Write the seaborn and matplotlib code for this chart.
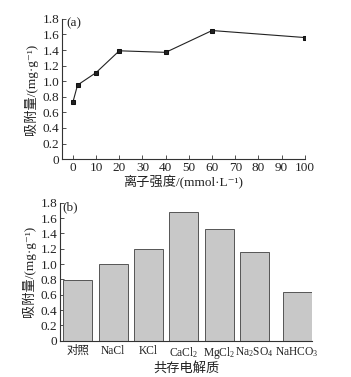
import seaborn as sns
import pandas as pd
import matplotlib.pyplot as plt

# panel (a): ionic strength
ionic_strength = [0, 2, 10, 20, 40, 60, 100]
adsorption_a = [0.73, 0.95, 1.11, 1.39, 1.37, 1.65, 1.56]

# panel (b): coexisting electrolytes
electrolytes = ["对照", "NaCl", "KCl", "CaCl$_2$", "MgCl$_2$", "Na$_2$SO$_4$", "NaHCO$_3$"]
adsorption_b = [0.79, 1.00, 1.19, 1.68, 1.46, 1.16, 0.64]
bar_pos = [0, 1, 2, 3, 4, 5, 6.2]  # last bar sits a bit further right in the original

sns.set_style("ticks")
plt.rcParams["font.family"] = ["Liberation Serif", "DejaVu Serif", "Noto Sans CJK SC"]
plt.rcParams["mathtext.fontset"] = "custom"
plt.rcParams["mathtext.rm"] = "Liberation Serif"
plt.rcParams["mathtext.it"] = "Liberation Serif:italic"

DARK = "#333333"
FS = 9.5

fig = plt.figure(figsize=(3.51, 3.77), dpi=100)
ax1 = fig.add_axes([0.1766, 0.578, 0.692, 0.372])
ax2 = fig.add_axes([0.171, 0.0963, 0.718, 0.366])

# (a) line with square markers
df_a = pd.DataFrame({"x": ionic_strength, "y": adsorption_a})
sns.lineplot(data=df_a, x="x", y="y", ax=ax1, color="#222222", linewidth=0.8,
             marker="s", markersize=3.5, markeredgecolor="#111111")
ax1.set_xlim(-4.7, 100)
ax1.set_ylim(0, 1.8)
ax1.set_xticks(range(0, 101, 10))
yt = [0, 0.2, 0.4, 0.6, 0.8, 1.0, 1.2, 1.4, 1.6, 1.8]
ytl = ["0", "0.2", "0.4", "0.6", "0.8", "1.0", "1.2", "1.4", "1.6", "1.8"]
ax1.set_yticks(yt)
ax1.set_yticklabels(ytl)
ax1.set_xlabel("离子强度/(mmol·L⁻¹)", fontsize=FS, labelpad=1)
ax1.set_ylabel("吸附量/(mg·g⁻¹)", fontsize=FS, labelpad=3)
ax1.text(0.02, 0.965, "(a)", transform=ax1.transAxes, fontsize=FS, va="center", ha="left")

# (b) bars
df_b = pd.DataFrame({"pos": bar_pos, "y": adsorption_b})
sns.barplot(data=df_b, x="pos", y="y", ax=ax2, native_scale=True, width=0.82,
            color="#c8c8c8", saturation=1, edgecolor="#555555", linewidth=0.7)
ax2.set_xlim(-0.5, 6.62)
ax2.set_ylim(0, 1.8)
ax2.set_xticks(bar_pos)
ax2.set_xticklabels(electrolytes)
ax2.set_yticks(yt)
ax2.set_yticklabels(ytl)
ax2.set_xlabel("共存电解质", fontsize=FS, labelpad=1)
ax2.set_ylabel("吸附量/(mg·g⁻¹)", fontsize=FS, labelpad=3)
ax2.text(0.01, 0.965, "(b)", transform=ax2.transAxes, fontsize=FS, va="center", ha="left")

for ax in (ax1, ax2):
    sns.despine(ax=ax)
    for s in ("left", "bottom"):
        ax.spines[s].set_linewidth(0.8)
        ax.spines[s].set_color(DARK)
    ax.tick_params(direction="in", length=3, width=0.6, colors=DARK,
                   labelsize=FS, labelcolor="#222222", pad=2)
    ax.xaxis.label.set_color("#222222")
    ax.yaxis.label.set_color("#222222")
ax2.tick_params(axis="x", length=0, labelsize=8.3, pad=3)

fig.savefig("out.png", dpi=100)
